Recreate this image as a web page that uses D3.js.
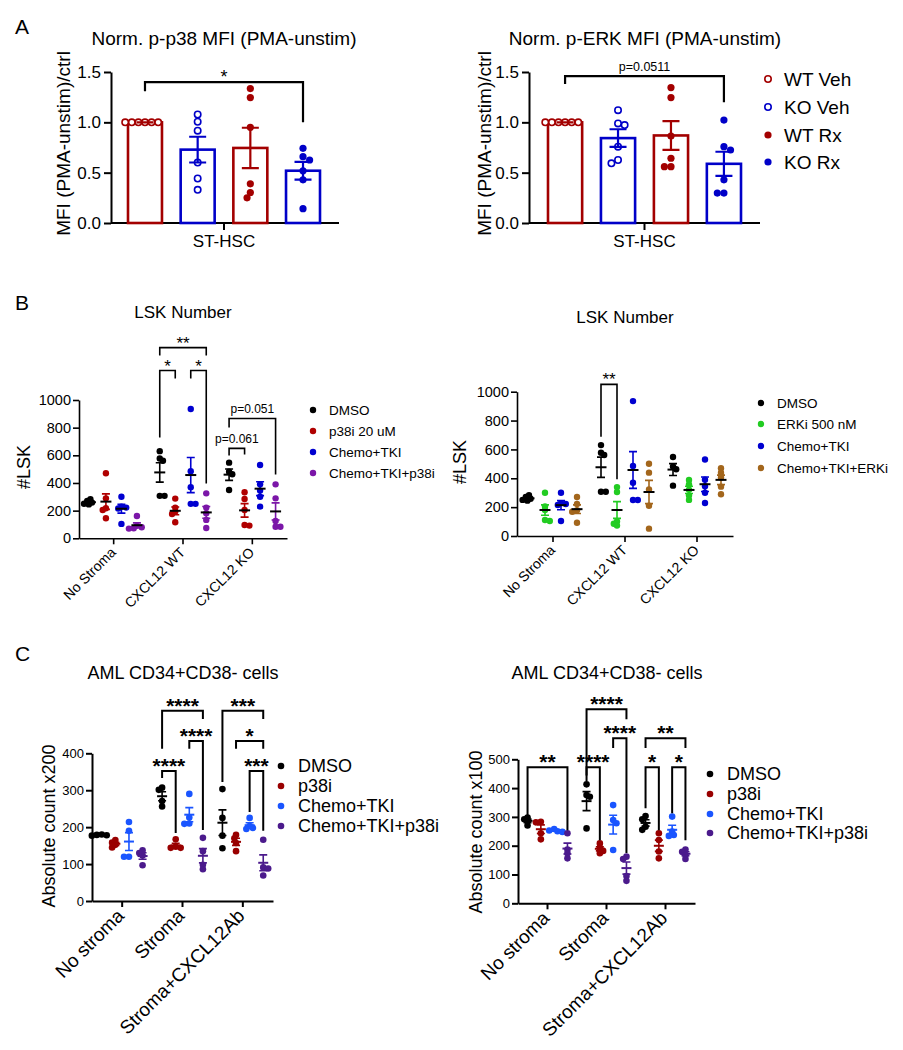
<!DOCTYPE html>
<html><head><meta charset="utf-8">
<script src="https://cdn.jsdelivr.net/npm/d3@7"></script>
<style>
body{margin:0;background:#fff}
svg{display:block}
text{font-family:"Liberation Sans",Arial,sans-serif;fill:#000}
</style>
</head><body>
<svg id="fig" width="903" height="1050"></svg>
<script>
// ---------------- DATA ----------------
// Panel A
const aGroups = ["WT Veh", "KO Veh", "WT Rx", "KO Rx"];
const aP38 = [[1,1,1,1,1,1],[1.078,1.006,0.917,0.600,0.442,0.330],[1.335,1.246,0.950,0.389,0.303,0.250],[0.742,0.659,0.626,0.518,0.429,0.142]];
const aErk = [[1,1,1,1,1,1],[1.121,0.989,0.973,0.758,0.626,0.593],[1.345,1.246,0.864,0.643,0.560,0.560],[1.022,0.758,0.725,0.429,0.297,0.297]];
const aTicks = [0, 0.5, 1.0, 1.5];
const aCategory = "ST-HSC";
const aSigP38 = [{a:0, b:3, label:"*", top:1.40, l:1.31, r:1.0}];
const aSigErk = [{a:0, b:3, label:"p=0.0511", top:1.46, l:1.38, r:1.20}];

// Panel B
const bCats = ["No Stroma", "CXCL12 WT", "CXCL12 KO"];
const bTicks = [0, 200, 400, 600, 800, 1000];
const bDMSO = [[282,270,258,250,245],[630,577,561,307,307],[547,482,463,349]];
const bP38i = [[470,289,217,205,145],[287,222,193,176,116],[333,284,205,96,92]];
const bChemo = [[300,228,222,215,104],[935,485,369,249,249],[530,390,345,300,229]];
const bChemoP38i = [[161,90,80,72,70],[325,222,181,133,75],[390,289,125,84,84]];
const bERKi = [[300,205,180,111,104],[339,305,100,85,72],[388,358,320,280,250]];
const bChemoERKi = [[270,222,178,168,92],[501,439,323,210,51],[469,439,406,342,289]];
const bSigP38 = [
  {cat:1, a:0, b:3, label:"**", top:1379, l:1321, r:1321},
  {cat:1, a:0, b:1, label:"*", top:1213, l:729, r:1155},
  {cat:1, a:2, b:3, label:"*", top:1213, l:1155, r:397},
  {cat:2, a:0, b:3, label:"p=0.051", top:866, l:801, r:462},
  {cat:2, a:0, b:1, label:"p=0.061", top:650, l:599, r:606}
];
const bSigErk = [{cat:1, a:0, b:1, label:"**", top:1051, l:688, r:393}];

// Panel C
const cCats = ["No stroma", "Stroma", "Stroma+CXCL12Ab"];
const cTicksL = [0, 100, 200, 300, 400];
const cTicksR = [0, 100, 200, 300, 400, 500];
const cDMSO = [[180,179,178,177],[307,301,271,256],[303,225,177,143]];
const cP38i = [[165,158,152,145],[167,147,144,144],[179,170,157,135]];
const cChemo = [[214,190,120,120],[290,226,210,209],[225,203,198,195]];
const cChemoP38i = [[137,130,123,97],[171,135,98,86],[166,91,88,69]];
const crDMSO = [[298,292,285,270],[413,376,370,260],[303,292,266,255]];
const crP38i = [[283,281,243,222],[208,193,182,174],[243,220,180,156]];
const crChemo = [[258,253,250,248],[341,289,278,185],[301,249,237,234]];
const crChemoP38i = [[243,187,174,156],[162,154,95,78],[187,179,168,154]];
const cSigL = [
  {cat:1, a:0, b:3, label:"****", top:515, l:412, r:493},
  {cat:1, a:2, b:3, label:"****", top:433, l:412, r:192},
  {cat:1, a:0, b:1, label:"****", top:352, l:333, r:184},
  {cat:2, a:0, b:3, label:"***", top:515, l:322, r:493},
  {cat:2, a:1, b:3, label:"*", top:433, l:412, r:412},
  {cat:2, a:2, b:3, label:"***", top:352, l:241, r:190}
];
const cSigR = [
  {cat:0, a:0, b:3, label:"**", top:472, l:299, r:254},
  {cat:1, a:0, b:3, label:"****", top:674, l:424, r:639},
  {cat:1, a:2, b:3, label:"****", top:573, l:539, r:175},
  {cat:1, a:0, b:1, label:"****", top:472, l:444, r:219},
  {cat:2, a:0, b:3, label:"**", top:573, l:539, r:539},
  {cat:2, a:0, b:1, label:"*", top:472, l:330, r:254},
  {cat:2, a:2, b:3, label:"*", top:472, l:313, r:219}
];

// ---------------- HELPERS ----------------
const svg = d3.select("#fig");
function txt(g, x, y, s, o = {}) {
  const t = g.append("text").attr("x", x).attr("y", y).text(s)
    .attr("font-size", o.size || 14)
    .attr("text-anchor", o.anchor || "middle")
    .attr("font-weight", o.weight || "normal");
  if (o.baseline) t.attr("dominant-baseline", o.baseline);
  if (o.rotate != null) t.attr("transform", `rotate(${o.rotate},${x},${y})`);
  return t;
}
function stats(a) {
  const m = d3.mean(a);
  const sd = a.length > 1 ? d3.deviation(a) : 0;
  return {m, sem: sd / Math.sqrt(a.length)};
}
function swarm(vals, ys, cx, r, gap) {
  const minD = 2 * r * gap, step = r * 0.5;
  const order = vals.map((v, i) => i).sort((a, b) => vals[b] - vals[a]);
  const placed = [], out = new Array(vals.length);
  order.forEach(i => {
    const yy = ys(vals[i]);
    let chosen = 0;
    for (let k = 0; k < 60; k++) {
      const cands = k === 0 ? [0] : (placed.length % 2 ? [-k * step, k * step] : [k * step, -k * step]);
      const ok = cands.find(dx => placed.every(p => (p.x - dx) ** 2 + (p.y - yy) ** 2 >= minD * minD));
      if (ok !== undefined) { chosen = ok; break; }
    }
    placed.push({x: chosen, y: yy});
    out[i] = {x: cx + chosen, y: yy};
  });
  return out;
}
function bracket(g, x1, x2, yTop, yL, yR, label, sw, fsStar, fsP, starWeight) {
  g.append("path").attr("d", `M${x1},${yL}V${yTop}H${x2}V${yR}`)
    .attr("fill", "none").attr("stroke", "#000").attr("stroke-width", sw);
  if (label.startsWith("p=")) txt(g, (x1 + x2) / 2, yTop - 5.5, label, {size: fsP});
  else txt(g, (x1 + x2) / 2, yTop + 1 + (fsStar > 18 ? 1 : 0), label, {size: fsStar, weight: starWeight});
}
function styleAxis(ax, sw, fs) {
  ax.selectAll("path,line").attr("stroke", "#000").attr("stroke-width", sw);
  ax.selectAll("text").attr("font-size", fs).attr("fill", "#000");
}

// ---------------- PANEL A ----------------
const aColors = ["#a30000", "#0000c8", "#a30000", "#0000c8"];
const aFilled = [false, false, true, true];
function barPanel(o) {
  const g = svg.append("g");
  const y = d3.scaleLinear().domain([0, 1.5]).range([o.yb, o.yt]);
  const x = d3.scaleBand().domain(aGroups).range([o.bx0, o.bx1]).paddingInner(0.355);
  txt(g, o.titleX, 45, o.title, {size: 19});
  const ya = g.append("g").attr("transform", `translate(${o.ax},0)`)
    .call(d3.axisLeft(y).tickValues(aTicks).tickFormat(d3.format(".1f")).tickSize(7).tickSizeOuter(0).tickPadding(3));
  styleAxis(ya, 2, 17);
  const mid = (o.bx0 + o.bx1) / 2;
  g.append("line").attr("x1", o.ax).attr("x2", o.axEnd).attr("y1", y(0)).attr("y2", y(0)).attr("stroke", "#000").attr("stroke-width", 2);
  g.append("line").attr("x1", mid).attr("x2", mid).attr("y1", y(0)).attr("y2", y(0) + 7).attr("stroke", "#000").attr("stroke-width", 2);
  txt(g, mid, 247, aCategory, {size: 17});
  txt(g, o.ylx, (o.yb + o.yt) / 2 - 4, "MFI (PMA-unstim)/ctrl", {size: 19, rotate: -90, baseline: "central"});
  o.data.forEach((vals, i) => {
    const s = stats(vals), c = aColors[i];
    const bx = x(aGroups[i]), bw = x.bandwidth(), cx = bx + bw / 2;
    g.append("rect").attr("x", bx).attr("y", y(s.m)).attr("width", bw).attr("height", y(0) - y(s.m))
      .attr("fill", "none").attr("stroke", c).attr("stroke-width", 2.6);
    swarm(vals, y, cx, 3.3, 0.92).forEach(p => {
      g.append("circle").attr("cx", p.x).attr("cy", p.y).attr("r", aFilled[i] ? 3.6 : 3.2)
        .attr("fill", aFilled[i] ? c : "#fff").attr("stroke", c).attr("stroke-width", aFilled[i] ? 0 : 1.6);
    });
    const cap = 8.5;
    g.append("path").attr("d", `M${cx},${y(s.m - s.sem)}V${y(s.m + s.sem)}M${cx - cap},${y(s.m + s.sem)}H${cx + cap}M${cx - cap},${y(s.m - s.sem)}H${cx + cap}`)
      .attr("stroke", c).attr("stroke-width", 2.2).attr("fill", "none");
  });
  o.sig.forEach(b => {
    const x1 = x(aGroups[b.a]) + x.bandwidth() / 2, x2 = x(aGroups[b.b]) + x.bandwidth() / 2;
    bracket(g, x1, x2, y(b.top), y(b.l), y(b.r), b.label, 2.2, 18, 12.5, "normal");
  });
  return g;
}
txt(svg, 15, 34, "A", {size: 21, anchor: "start"});
barPanel({title: "Norm. p-p38 MFI (PMA-unstim)", titleX: 224, ax: 111, axEnd: 339, yb: 223, yt: 72, bx0: 128, bx1: 320, ylx: 63, data: aP38, sig: aSigP38});
const gAR = barPanel({title: "Norm. p-ERK MFI (PMA-unstim)", titleX: 645, ax: 529, axEnd: 760, yb: 223, yt: 72, bx0: 548, bx1: 741, ylx: 484, data: aErk, sig: aSigErk});
[79, 107, 135, 162].forEach((yy, i) => {
  gAR.append("circle").attr("cx", 768).attr("cy", yy).attr("r", aFilled[i] ? 3.6 : 3.2)
    .attr("fill", aFilled[i] ? aColors[i] : "#fff").attr("stroke", aColors[i]).attr("stroke-width", aFilled[i] ? 0 : 1.6);
  txt(gAR, 784, yy, aGroups[i], {size: 19, anchor: "start", baseline: "central"});
});

// ---------------- DOT PANELS (B, C) ----------------
function dotPanel(o) {
  const g = svg.append("g");
  const y = d3.scaleLinear().domain([0, o.max]).range([o.yb, o.yt]);
  const x = d3.scaleBand().domain(o.cats).range([o.x0, o.x1]);
  const cxf = (ci, si) => x(o.cats[ci]) + x.bandwidth() / 2 + (si - 1.5) * o.sp;
  txt(g, o.titleX, o.titleY, o.title, {size: o.titleFs, baseline: "central"});
  const ya = g.append("g").attr("transform", `translate(${o.x0},0)`)
    .call(d3.axisLeft(y).tickValues(o.ticks).tickFormat(d3.format("d")).tickSize(6).tickSizeOuter(0).tickPadding(2));
  styleAxis(ya, o.sw, o.tickFs);
  const xa = g.append("g").attr("transform", `translate(0,${o.yb})`)
    .call(d3.axisBottom(x).tickSize(6).tickSizeOuter(0).tickFormat(""));
  styleAxis(xa, o.sw, o.tickFs);
  o.cats.forEach(c => {
    const tx = x(c) + x.bandwidth() / 2 + o.lblDx, ty = o.yb + o.lblDy;
    txt(g, tx, ty, c, {size: o.catFs, anchor: "end", rotate: -45});
  });
  txt(g, o.ytX, o.ytY, o.yTitle, {size: o.ytFs, rotate: -90, baseline: "central"});
  o.series.forEach((ser, si) => {
    ser.data.forEach((vals, ci) => {
      const c = cxf(ci, si);
      swarm(vals, y, c, o.r, 0.55).forEach(p => {
        g.append("circle").attr("cx", p.x).attr("cy", p.y).attr("r", o.r).attr("fill", ser.color);
      });
      const s = stats(vals);
      const cap = o.cap;
      g.append("path").attr("d", `M${c},${y(s.m - s.sem)}V${y(s.m + s.sem)}M${c - cap},${y(s.m + s.sem)}H${c + cap}M${c - cap},${y(s.m - s.sem)}H${c + cap}`)
        .attr("stroke", ser.color).attr("stroke-width", 1.6).attr("fill", "none");
      g.append("line").attr("x1", c - o.mh).attr("x2", c + o.mh).attr("y1", y(s.m)).attr("y2", y(s.m))
        .attr("stroke", o.meanBlack ? "#000" : ser.color).attr("stroke-width", 2);
    });
  });
  o.sig.forEach(b => {
    bracket(g, cxf(b.cat, b.a), cxf(b.cat, b.b), y(b.top), y(b.l), y(b.r), b.label, o.sw, o.starFs, o.pFs, o.starWeight);
  });
  o.series.forEach((ser, si) => {
    const yy = o.legRows[si];
    g.append("circle").attr("cx", o.legX).attr("cy", yy).attr("r", o.r).attr("fill", ser.color);
    txt(g, o.legX + o.legGap, yy, ser.name, {size: o.legFs, anchor: "start", baseline: "central"});
  });
}

const colBlack = "#000000", colRedB = "#b00000", colBlueB = "#0000d0", colPurpleB = "#7b16a8", colGreen = "#22cc22", colBrown = "#a3661c";
const colRedC = "#990000", colBlueC = "#1a55ff", colPurpleC = "#4b1a8c";

txt(svg, 15, 302, "B", {size: 21, anchor: "start", baseline: "central"});
const bCommon = {cats: bCats, max: 1000, ticks: bTicks, title: "LSK Number", titleFs: 17, sw: 1.6, tickFs: 14.5, catFs: 14, lblDx: 3, lblDy: 15,
  yTitle: "#LSK", ytFs: 18, r: 3.2, cap: 4, mh: 5.5, meanBlack: true, starFs: 17, pFs: 12, starWeight: "normal", legFs: 13.5, legGap: 16};
dotPanel(Object.assign({}, bCommon, {x0: 79, x1: 287, yb: 538.3, yt: 400, sp: 15.5, titleX: 183, titleY: 312, ytX: 24, ytY: 467,
  legX: 313, legRows: [410, 431, 452, 473], sig: bSigP38,
  series: [{name: "DMSO", color: colBlack, data: bDMSO}, {name: "p38i 20 uM", color: colRedB, data: bP38i},
           {name: "Chemo+TKI", color: colBlueB, data: bChemo}, {name: "Chemo+TKI+p38i", color: colPurpleB, data: bChemoP38i}]}));
dotPanel(Object.assign({}, bCommon, {x0: 517, x1: 733, yb: 536, yt: 391.7, sp: 16, titleX: 625, titleY: 317, ytX: 460, ytY: 462,
  legX: 761, legRows: [403, 424, 446, 468], sig: bSigErk,
  series: [{name: "DMSO", color: colBlack, data: bDMSO}, {name: "ERKi 500 nM", color: colGreen, data: bERKi},
           {name: "Chemo+TKI", color: colBlueB, data: bChemo}, {name: "Chemo+TKI+ERKi", color: colBrown, data: bChemoERKi}]}));

txt(svg, 15, 653, "C", {size: 21, anchor: "start", baseline: "central"});
const cCommon = {cats: cCats, title: "AML CD34+CD38- cells", titleFs: 18, sw: 2, tickFs: 13, catFs: 19, lblDx: 3, lblDy: 16,
  ytFs: 18, r: 3.3, cap: 4, mh: 5, meanBlack: false, starFs: 21, pFs: 12, starWeight: "bold", legFs: 18, legGap: 17};
dotPanel(Object.assign({}, cCommon, {x0: 92, x1: 273, yb: 901, yt: 753.3, max: 400, ticks: cTicksL, sp: 13.6, titleX: 183, titleY: 673,
  yTitle: "Absolute count x200", ytX: 49, ytY: 826, legX: 281, legRows: [766, 786, 806, 826], sig: cSigL,
  series: [{name: "DMSO", color: colBlack, data: cDMSO}, {name: "p38i", color: colRedC, data: cP38i},
           {name: "Chemo+TKI", color: colBlueC, data: cChemo}, {name: "Chemo+TKI+p38i", color: colPurpleC, data: cChemoP38i}]}));
dotPanel(Object.assign({}, cCommon, {x0: 518, x1: 695, yb: 903.3, yt: 759.3, max: 500, ticks: cTicksR, sp: 13.3, titleX: 607, titleY: 673,
  yTitle: "Absolute count x100", ytX: 476, ytY: 832, legX: 710, legRows: [774, 794, 814, 833], sig: cSigR,
  series: [{name: "DMSO", color: colBlack, data: crDMSO}, {name: "p38i", color: colRedC, data: crP38i},
           {name: "Chemo+TKI", color: colBlueC, data: crChemo}, {name: "Chemo+TKI+p38i", color: colPurpleC, data: crChemoP38i}]}));
</script>
</body></html>
